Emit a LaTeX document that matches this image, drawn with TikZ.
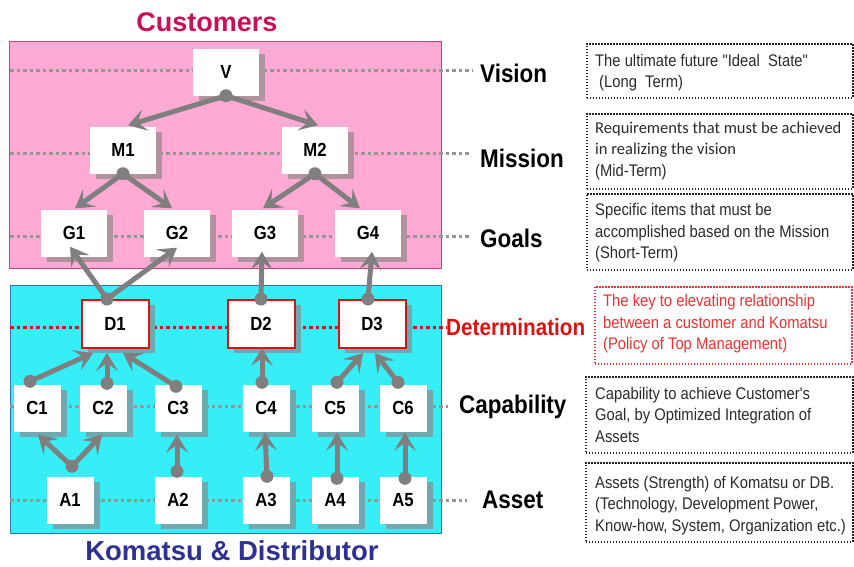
\documentclass[tikz,border=0pt]{standalone}
\usepackage{fontspec}
\setmainfont{Liberation Sans}
\newfontfamily\cf[FakeStretch=0.88]{Liberation Sans}
\newfontfamily\calf{Carlito}
\usetikzlibrary{shadows,arrows.meta}
\definecolor{pinkbg}{HTML}{FFAAD4}
\definecolor{pinkbd}{HTML}{C04080}
\definecolor{cyanbg}{HTML}{38EEF6}
\definecolor{cyanbd}{HTML}{3070C0}
\definecolor{cgray}{HTML}{7F7F7F}
\definecolor{shpink}{HTML}{B0939F}
\definecolor{shcyan}{HTML}{6FA8AE}
\definecolor{guide}{HTML}{969696}
\definecolor{dred}{HTML}{E01010}
\definecolor{lred}{HTML}{F03030}
\definecolor{custc}{HTML}{C8105A}
\definecolor{komc}{HTML}{2E3192}
\definecolor{txtc}{HTML}{2A2A2A}
\tikzset{
  nbox/.style={rectangle, fill=white, minimum width=66pt, minimum height=47pt, inner sep=0pt,
    font=\cf\bfseries\fontsize{19}{19}\selectfont},
  pbox/.style={nbox, drop shadow={shadow xshift=6pt, shadow yshift=-5pt, fill=shpink, opacity=1}},
  dbox/.style={nbox, draw=dred, line width=2pt, minimum width=67pt, minimum height=48pt,
    drop shadow={shadow xshift=6pt, shadow yshift=-5pt, fill=shcyan, opacity=1}},
  sbox/.style={nbox, minimum width=47pt, minimum height=47pt,
    drop shadow={shadow xshift=6pt, shadow yshift=-5pt, fill=shcyan, opacity=1}},
  conn/.style={draw=cgray, line width=5pt, -{Stealth[length=18pt,width=22pt,inset=8pt]}},
  dotp/.style={fill=cgray},
  gdot/.style={draw=guide, line width=3pt, dash pattern=on 3.5pt off 3pt},
  rdot/.style={draw=dred, line width=3pt, dash pattern=on 3.5pt off 3pt},
  lvl/.style={anchor=west, inner sep=0pt, font=\cf\bfseries\fontsize{25.5}{26}\selectfont},
  dbk/.style={draw=black!85, line width=1.5pt, dash pattern=on 1.5pt off 1.5pt, anchor=north west, inner sep=0pt},
  dtx/.style={anchor=west, inner sep=0pt, align=left, text=txtc, font=\cf\fontsize{16.8}{21.5}\selectfont},
}
\begin{document}
\begin{tikzpicture}[x=1pt,y=-1pt]
\useasboundingbox (0,0) rectangle (854,566);
% backgrounds
\filldraw[fill=pinkbg, draw=pinkbd, line width=1pt] (9,41) rectangle (441,268);
\filldraw[fill=cyanbg, draw=cyanbd, line width=1pt] (10,285) rectangle (441,533);
\node[font=\bfseries\fontsize{27}{27}\selectfont, text=custc, inner sep=0pt] (cust) at (207,22) {Customers};
\node[font=\bfseries\fontsize{27.5}{28}\selectfont, text=komc, inner sep=0pt] (kom) at (232,551) {Komatsu \& Distributor};
% guide lines
\draw[gdot] (10,70) -- (472,70);
\draw[gdot] (10,153) -- (470,153);
\draw[gdot] (10,236) -- (470,236);
\draw[rdot] (10,327) -- (446,327);
\draw[gdot] (10,406) -- (448,406);
\draw[gdot] (10,500) -- (467,500);
% nodes
\node[pbox] (V) at (226,72) {V};
\node[pbox] (M1) at (123,150) {M1};
\node[pbox] (M2) at (315,150) {M2};
\node[pbox] (G1) at (74,233) {G1};
\node[pbox] (G2) at (177,233) {G2};
\node[pbox] (G3) at (265,233) {G3};
\node[pbox] (G4) at (368,233) {G4};
\node[dbox] (D1) at (115,324) {D1};
\node[dbox] (D2) at (261,324) {D2};
\node[dbox] (D3) at (372,324) {D3};
\node[sbox] (C1) at (37,408) {C1};
\node[sbox] (C2) at (103,408) {C2};
\node[sbox] (C3) at (178,408) {C3};
\node[sbox] (C4) at (266,408) {C4};
\node[sbox] (C5) at (335,408) {C5};
\node[sbox] (C6) at (403,408) {C6};
\node[sbox] (A1) at (70,500) {A1};
\node[sbox] (A2) at (178,500) {A2};
\node[sbox] (A3) at (266,500) {A3};
\node[sbox] (A4) at (335,500) {A4};
\node[sbox] (A5) at (403,500) {A5};
% connector start points
\coordinate (pV) at (V.south);
\coordinate (pM1) at (M1.south);
\coordinate (pM2) at (M2.south);
\coordinate (pD1) at ([xshift=-8pt]D1.north);
\coordinate (pD2) at (D2.north);
\coordinate (pD3) at ([xshift=-4pt]D3.north);
\coordinate (pC1) at ([xshift=-7pt,yshift=3pt]C1.north);
\coordinate (pC2) at ([xshift=4pt,yshift=1pt]C2.north);
\coordinate (pC3) at ([xshift=-2pt,yshift=-2pt]C3.north);
\coordinate (pC4) at ([xshift=-4pt,yshift=2pt]C4.north);
\coordinate (pC5) at ([xshift=2pt,yshift=2pt]C5.north);
\coordinate (pC6) at ([xshift=-5pt,yshift=2pt]C6.north);
\coordinate (pA1) at ([xshift=2pt,yshift=10pt]A1.north);
\coordinate (pA2) at ([xshift=-1pt,yshift=5pt]A2.north);
\coordinate (pA3) at ([xshift=1pt,yshift=0pt]A3.north);
\coordinate (pA4) at ([xshift=2pt,yshift=-2pt]A4.north);
\coordinate (pA5) at ([xshift=2pt,yshift=-2pt]A5.north);
% connectors
\draw[conn] (pV) -- ([xshift=5pt,yshift=1pt]M1.north);
\draw[conn] (pV) -- ([xshift=3pt,yshift=1pt]M2.north);
\draw[conn] (pM1) -- ([xshift=1pt,yshift=1pt]G1.north);
\draw[conn] (pM1) -- ([xshift=-5pt,yshift=1pt]G2.north);
\draw[conn] (pM2) -- ([xshift=-2pt,yshift=1pt]G3.north);
\draw[conn] (pM2) -- ([xshift=-8pt,yshift=1pt]G4.north);
\draw[conn] (pD1) -- ([xshift=-4pt,yshift=10pt]G1.south);
\draw[conn] (pD1) -- ([xshift=0pt,yshift=9pt]G2.south);
\draw[conn] (pD2) -- ([xshift=-3pt,yshift=5pt]G3.south);
\draw[conn] (pD3) -- ([xshift=4pt,yshift=5pt]G4.south);
\draw[conn] (pC1) -- ([xshift=-22pt,yshift=-4pt]D1.south);
\draw[conn] (pC2) -- ([xshift=-8pt,yshift=-4pt]D1.south);
\draw[conn] (pC3) -- ([xshift=8pt,yshift=-4pt]D1.south);
\draw[conn] (pC4) -- ([xshift=1pt,yshift=1pt]D2.south);
\draw[conn] (pC5) -- ([xshift=-9pt,yshift=-4pt]D3.south);
\draw[conn] (pC6) -- ([xshift=3pt,yshift=-4pt]D3.south);
\draw[conn] (pA1) -- ([xshift=1pt,yshift=-3pt]C1.south);
\draw[conn] (pA1) -- ([xshift=-1pt,yshift=-3pt]C2.south);
\draw[conn] (pA2) -- ([xshift=-1pt,yshift=-3pt]C3.south);
\draw[conn] (pA3) -- ([xshift=-1pt,yshift=-1pt]C4.south);
\draw[conn] (pA4) -- ([xshift=2pt,yshift=-1pt]C5.south);
\draw[conn] (pA5) -- ([xshift=2pt,yshift=-1pt]C6.south);
\foreach \p in {pV,pM1,pM2,pD1,pD2,pD3,pC1,pC2,pC3,pC4,pC5,pC6,pA1,pA2,pA3,pA4,pA5}
  \fill[dotp] (\p) circle (6.5pt);
% level labels
\node[lvl] (lv) at (480,73) {Vision};
\node[lvl] (lm) at (480,158) {Mission};
\node[lvl] (lg) at (480,238) {Goals};
\node[lvl, text=dred, font=\cf\bfseries\fontsize{23.5}{24}\selectfont] (ld) at (446,327) {Determination};
\node[lvl] (lc) at (459,407) {Capability};
\node[lvl] (la) at (482,500) {Asset};
% description boxes
\node[dbk, minimum width=266pt, minimum height=54pt] (b1) at (586,43) {};
\node[dbk, minimum width=266pt, minimum height=75pt] (b2) at (586,113) {};
\node[dbk, minimum width=266pt, minimum height=76pt] (b3) at (586,193) {};
\node[dbk, draw=lred, minimum width=257pt, minimum height=77pt] (b4) at (594,286) {};
\node[dbk, minimum width=267pt, minimum height=76pt] (b5) at (585,376) {};
\node[dbk, minimum width=267pt, minimum height=79pt] (b6) at (585,462) {};
\node[dtx] (t1) at (595,72.5) {The ultimate future "Ideal\ \ State"\\\hspace{4pt}(Long\ \ Term)};
\node[dtx] (t2) at (595,151) {{\calf\fontsize{16.5}{21.5}\selectfont Requirements that must be achieved}\\{\calf\fontsize{16.5}{21.5}\selectfont in realizing the vision}\\(Mid-Term)};
\node[dtx] (t3) at (595,233) {Specific items that must be\\accomplished based on the Mission\\(Short-Term)};
\node[dtx, text=lred] (t4) at (603,324) {The key to elevating relationship\\between a customer and Komatsu\\(Policy of Top Management)};
\node[dtx] (t5) at (595,414.5) {Capability to achieve Customer's\\Goal, by Optimized Integration of\\Assets};
\node[dtx] (t6) at (595,505.5) {Assets (Strength) of Komatsu or DB.\\(Technology, Development Power,\\Know-how, System, Organization etc.)};
\end{tikzpicture}
\end{document}
